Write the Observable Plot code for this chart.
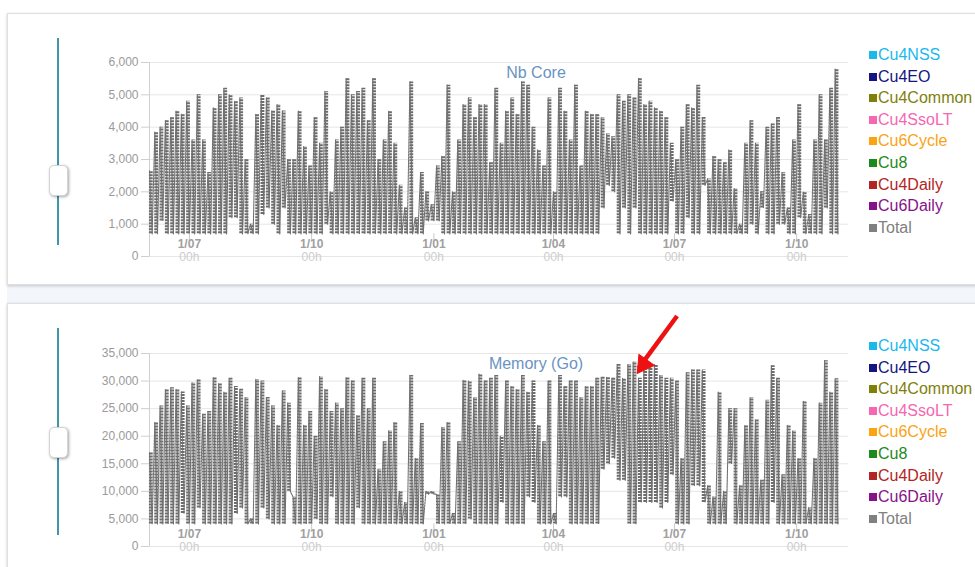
<!DOCTYPE html>
<html><head><meta charset="utf-8">
<script src="https://cdn.jsdelivr.net/npm/d3@7"></script>
<script src="https://cdn.jsdelivr.net/npm/@observablehq/plot@0.6"></script>
<style>
html,body{margin:0;padding:0;width:975px;height:567px;overflow:hidden;background:#fff;font-family:"Liberation Sans",Arial,sans-serif;}
.band{position:absolute;left:7px;top:283px;width:968px;height:20px;background:#f3f6fa;}
.card{position:absolute;left:7px;width:985px;background:#fff;border:1px solid #e0e0e0;box-shadow:0 1px 3px rgba(0,0,0,0.2);}
.sline{position:absolute;left:57px;width:2px;background:#3f96a8;}
.knob{position:absolute;left:49px;width:17px;height:29px;background:#fff;border:1px solid #d4d4d4;border-radius:5px;box-shadow:1px 1px 3px rgba(0,0,0,.35);}
.legend{position:absolute;left:869px;font-size:16px;line-height:21.6px;}
.legend div{white-space:nowrap;}
.legend .sw{display:inline-block;width:8px;height:8px;margin-right:1px;vertical-align:1px;}
.chart{position:absolute;left:60px;}
.chart svg{background:transparent !important;overflow:visible;}
</style>
</head><body>
<div class="band"></div>
<div class="card" style="top:13px;height:270px;"></div>
<div class="card" style="top:303px;height:290px;"></div>
<div class="sline" style="top:38px;height:207px;"></div>
<div class="knob" style="top:165px;"></div>
<div class="sline" style="top:328px;height:207px;"></div>
<div class="knob" style="top:427px;"></div>
<div id="legend1" class="legend" style="top:44px;"></div>
<div id="legend2" class="legend" style="top:335px;"></div>
<div id="chart1" class="chart" style="top:50px;"></div>
<div id="chart2" class="chart" style="top:310px;"></div>
<script>
// ---- data ----
const startDate = "2018-06-01";
const binDays = 4;
const coreHigh = [2650,3850,4000,4200,4300,4500,4400,4800,3600,5000,
 3600,2600,4600,5000,5200,5000,4800,4900,3000,1000,
 4400,5000,4900,4500,4700,4500,3000,3000,4500,3400,
 2800,4300,3500,5100,2000,3600,4000,5500,5000,5100,
 5200,4200,5500,3000,3600,4500,3500,2200,1500,5400,
 1200,2600,2000,1600,2800,3100,5300,2000,3600,4700,
 4900,4300,4700,4700,2900,5200,3500,4500,4900,4400,
 5400,5300,4000,3300,2800,4900,2000,5200,4500,3600,
 5300,2800,4500,4400,4400,4300,3800,3700,5000,4800,
 5000,4900,5500,4700,4800,4600,4500,4300,3500,3000,
 4000,4700,4600,5300,4300,2400,3100,3000,2900,3300,
 2100,1000,3500,4200,3500,2000,4000,4100,4300,2600,
 1500,3600,4700,2000,1300,3600,5000,3600,5200,5800];
const coreLow = [700,700,1100,700,700,700,700,700,700,700,
 700,700,700,700,700,1200,1200,700,700,700,
 700,1300,1500,1000,700,1500,700,700,700,700,
 700,700,700,1000,700,700,700,700,700,700,
 700,700,700,700,700,700,700,700,700,700,
 700,700,1100,1100,1100,700,700,700,700,700,
 700,700,700,700,700,700,700,700,700,700,
 700,700,700,700,700,700,700,700,700,700,
 700,700,700,700,700,1500,2200,2000,700,1500,
 700,1500,700,700,700,700,700,700,1700,700,
 700,1200,700,700,2200,700,700,700,700,700,
 700,700,700,1000,700,1500,700,700,1000,1000,
 700,700,1200,700,700,700,700,1500,700,700];
const memHigh = [17000,22500,25500,28500,28800,28500,28000,25500,29700,30200,
 24000,24500,30600,29500,28000,30500,29000,28500,27000,5000,
 30300,30000,27000,25500,22000,28200,26000,9000,30600,22000,
 24500,20000,30800,28500,24500,26000,25000,30600,30000,23700,
 30500,25000,30500,14000,19000,21000,22500,10000,8000,31000,
 16000,22300,10000,10000,9500,21600,22500,6000,19000,30200,
 30000,27000,31300,30000,30500,31000,20000,30000,29000,28500,
 31000,28000,30000,22000,19000,30000,6000,31000,29000,30000,
 30000,27000,29000,29000,30500,30700,30700,30500,33000,30500,
 33000,33500,30500,32000,32500,33000,31000,30500,30500,30000,
 16000,31500,32000,32000,32000,11000,9000,28000,10000,25000,
 25000,11000,22000,27000,23000,12000,26500,32800,30500,13000,
 22000,21000,16000,26400,7000,16000,26000,33700,28000,30400];
const memLow = [4100,4100,4100,4100,4100,4100,6000,4100,4100,7000,
 4100,4100,4100,4100,4100,4100,6000,7000,4100,4100,
 4100,7000,5000,4100,4100,4100,10000,4100,4100,4100,
 4100,5000,4100,4100,9000,4100,4100,4100,4100,7000,
 4100,4100,4100,4100,4100,4100,4100,4100,4100,4100,
 4100,4100,9500,9500,4100,4100,4100,4100,4100,4100,
 5000,4100,4100,4100,4100,4100,8000,4100,4100,4100,
 4100,9000,8000,4100,4100,4100,4100,9000,9000,4100,
 4100,4100,4100,4100,4100,14000,15000,16000,12000,12000,
 4100,4100,8000,8000,8000,8000,7000,8000,13000,4100,
 4100,4100,11000,11000,8000,4100,4100,4100,4100,15000,
 4100,4100,4100,4100,4100,4100,4100,8000,4100,4100,
 4100,4100,4100,4100,4100,4100,4100,4100,4100,4100];
const xDomain = ["2018-06-01", "2019-11-09"];
const xTickDates = ["2018-07-01","2018-10-01","2019-01-01","2019-04-01","2019-07-01","2019-10-01"];
const xTickLabels = ["1/07","1/10","1/01","1/04","1/07","1/10"];
const xTickHour = "00h";
const coreTicks = [0,1000,2000,3000,4000,5000,6000];
const memTicks = [0,5000,10000,15000,20000,25000,30000,35000];
const coreAxisAt = 700;
const memAxisAt = 4100;
const seriesNames = ["Cu4NSS","Cu4EO","Cu4Common","Cu4SsoLT","Cu6Cycle","Cu8","Cu4Daily","Cu6Daily","Total"];
const seriesColors = ["#19b9ec","#15157f","#7f7f0c","#f766b0","#fba313","#1c8a1c","#b32424","#86128a","#808080"];
const memArrow = {x1: "2019-07-03", y1: 41800, x2: "2019-06-04", y2: 32300};

// ---- build ----
const DAY = 864e5;
const t0 = new Date(startDate).getTime();
function points(high, low) {
  const pts = [];
  high.forEach((h, i) => {
    pts.push({date: new Date(t0 + i * binDays * DAY), value: h});
    pts.push({date: new Date(t0 + (i * binDays + binDays / 2) * DAY), value: low[i]});
  });
  return pts;
}
function bins(high, low) {
  return high.map((h, i) => ({date: new Date(t0 + (i * binDays + 1) * DAY), high: h, low: low[i]}));
}
const xTicks = xTickDates.map((d, i) => ({date: new Date(d), label: xTickLabels[i]}));

function makeChart({high, low, yTicks, axisAt, title, marginTop, height, arrow}) {
  const marks = [
    Plot.ruleY(yTicks, {stroke: "#e6e6e6"}),
    Plot.ruleX([new Date(xDomain[0])], {stroke: "#d0d0d0"}),
    Plot.axisY({ticks: yTicks, tickFormat: d3.format(","), tickSize: 8, tickPadding: 3, color: "#9a9a9a", stroke: "#cfcfcf", fontSize: 12, label: null}),
    Plot.ruleX(bins(high, low), {x: "date", y1: "low", y2: "high", stroke: "#6c6c6c", strokeWidth: 3.8, strokeDasharray: "2,1"}),
    Plot.line(points(high, low), {x: "date", y: "value", stroke: "#707070", strokeWidth: 1.1, strokeDasharray: "2,1"}),
    Plot.ruleX(xTicks, {x: "date", y1: axisAt, y2: axisAt, insetBottom: -7, stroke: "#c8c8c8"}),
    Plot.text(xTicks, {x: "date", y: axisAt, dy: 10, text: "label", fill: "#a0a0a0", fontWeight: "bold", fontSize: 12}),
    Plot.text(xTicks, {x: "date", y: axisAt, dy: 23, text: () => xTickHour, fill: "#cdcdcd", fontSize: 12}),
    Plot.text([title], {frameAnchor: "top", dx: 37, dy: 10, lineAnchor: "middle", fill: "#6b93c3", fontSize: 16})
  ];
  if (arrow) {
    marks.push(Plot.link([arrow], {x1: d => new Date(d.x1), y1: "y1", x2: d => new Date(d.x2), y2: "y2", stroke: "#ee1111", strokeWidth: 4.5}));
    marks.push(Plot.dot([arrow], {x: d => new Date(d.x2), y: "y2", symbol: "triangle", r: 7, rotate: 215, fill: "#ee1111", stroke: "#ee1111", strokeWidth: 1, dx: 5, dy: -4}));
  }
  return Plot.plot({
    width: 800, height, marginLeft: 89, marginRight: 12, marginTop, marginBottom: 14,
    style: {fontFamily: "Liberation Sans, Arial, sans-serif", fontSize: "12px", background: "transparent", overflow: "visible"},
    x: {type: "utc", domain: xDomain.map(d => new Date(d)), axis: null},
    y: {domain: [yTicks[0], yTicks[yTicks.length - 1]], axis: null},
    marks
  });
}

document.getElementById("chart1").append(makeChart({high: coreHigh, low: coreLow, yTicks: coreTicks, axisAt: coreAxisAt, title: "Nb Core", marginTop: 12, height: 220}));
document.getElementById("chart2").append(makeChart({high: memHigh, low: memLow, yTicks: memTicks, axisAt: memAxisAt, title: "Memory (Go)", marginTop: 43, height: 250, arrow: memArrow}));

for (const id of ["legend1", "legend2"]) {
  const el = document.getElementById(id);
  seriesNames.forEach((n, i) => {
    const row = document.createElement("div");
    row.style.color = seriesColors[i];
    const sw = document.createElement("span");
    sw.className = "sw";
    sw.style.background = seriesColors[i];
    row.append(sw, document.createTextNode(n));
    el.append(row);
  });
}
</script>
</body></html>
